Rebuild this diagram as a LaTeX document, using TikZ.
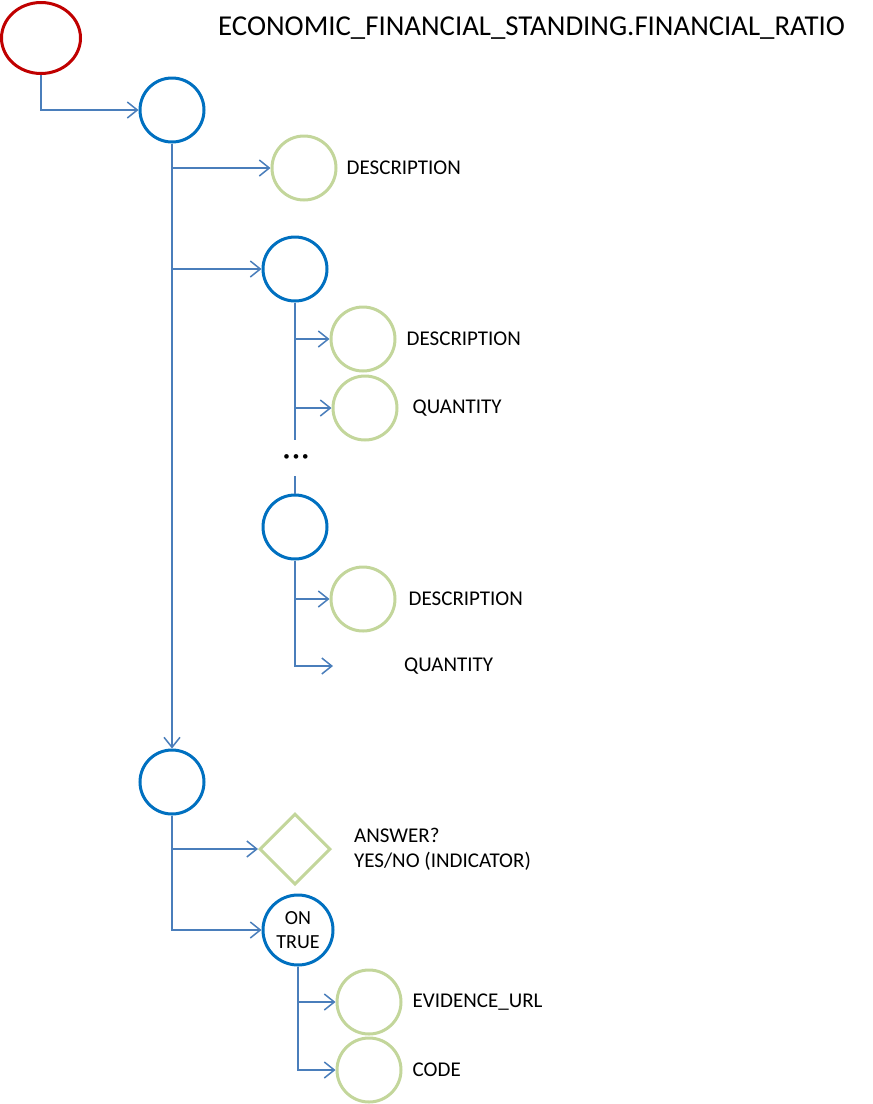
\documentclass[tikz,border=0pt]{standalone}
\usepackage{fontspec}
\setmainfont{Carlito}
\usetikzlibrary{positioning,shapes.geometric,arrows.meta}
\definecolor{rootred}{HTML}{C00000}
\definecolor{groupblue}{HTML}{0070C0}
\definecolor{leafgreen}{HTML}{C3D69B}
\definecolor{linkblue}{HTML}{4A7EBB}
\begin{document}
\begin{tikzpicture}[x=1pt, y=-1pt,
    grp/.style={draw=groupblue, circle, line width=3pt, minimum size=64pt, inner sep=0pt, font=\fontsize{20}{24}\selectfont, align=center},
    leaf/.style={draw=leafgreen, circle, line width=3pt, minimum size=64pt, inner sep=0pt},
    lbl/.style={inner sep=0pt, anchor=west, font=\fontsize{21}{25}\selectfont, align=left},
    link/.style={draw=linkblue, line width=1.5pt, -{Straight Barb[length=10pt,width=16pt]}},
    plain/.style={draw=linkblue, line width=1.5pt}]
    \useasboundingbox (0,0) rectangle (873,1104);

    \node [draw=rootred, ellipse, line width=3pt, minimum width=79pt, minimum height=71pt, inner sep=0pt] (root) at (41,38) {};
    \node [lbl, font=\fontsize{28.8}{32}\selectfont] (title) at (218,28) {ECONOMIC\_FINANCIAL\_STANDING.FINANCIAL\_RATIO};

    \node [grp] (ratio) at (172,110) {};
    \node [leaf] (desc) at (304,168) {};
    \node [lbl, right=9pt of desc] (desclbl) {DESCRIPTION};

    \node [grp] (firstitem) at (295,269) {};
    \node [leaf] (itemdesc) at (363,339) {};
    \node [leaf] (itemqty) at (365,408) {};
    \node [lbl, right=10pt of itemdesc] (itemdesclbl) {DESCRIPTION};
    \node [lbl, right=14pt of itemqty] (itemqtylbl) {QUANTITY};

    \node [inner sep=0pt, minimum height=36pt, font=\fontsize{13}{16}\selectfont] (more) at (296,458) {\textbullet\hspace{3pt}\textbullet\hspace{3pt}\textbullet};

    \node [grp] (lastitem) at (295,527) {};
    \node [leaf] (lastdesc) at (363,599) {};
    \coordinate (lastqty) at (333,666);
    \node [lbl, right=12pt of lastdesc] (lastdesclbl) {DESCRIPTION};
    \node [lbl] (lastqtylbl) at (404,666) {QUANTITY};

    \node [grp] (answer) at (172,782) {};
    \node [draw=leafgreen, diamond, line width=3pt, minimum size=71pt, inner sep=0pt] (indicator) at (295,849) {};
    \node [lbl, right=22pt of indicator] (indicatorlbl) {ANSWER?\\YES/NO (INDICATOR)};

    \node [grp, minimum size=70pt] (ontrue) at (298,930) {ON\\TRUE};
    \node [leaf] (evidence) at (369,1002) {};
    \node [leaf] (code) at (369,1070) {};
    \node [lbl, right=10pt of evidence] (evidencelbl) {EVIDENCE\_URL};
    \node [lbl, right=10pt of code] (codelbl) {CODE};

    \draw [link] (root.south) |- (ratio.west);
    \draw [link] (ratio.south) -- (answer.north);
    \draw [link] (ratio.south) |- (desc.west);
    \draw [link] (ratio.south) |- (firstitem.west);

    \draw [link] (firstitem.south) |- (itemdesc.west);
    \draw [link] (firstitem.south) |- (itemqty.west);
    \draw [plain] (firstitem.south) -- (firstitem.south |- more.north);
    \draw [plain] (lastitem.north |- more.south) -- (lastitem.north);

    \draw [link] (lastitem.south) |- (lastdesc.west);
    \draw [link] (lastitem.south) |- (lastqty);

    \draw [link] (answer.south) |- (indicator.west);
    \draw [link] (answer.south) |- (ontrue.west);

    \draw [link] (ontrue.south) |- (evidence.west);
    \draw [link] (ontrue.south) |- (code.west);
\end{tikzpicture}
\end{document}
